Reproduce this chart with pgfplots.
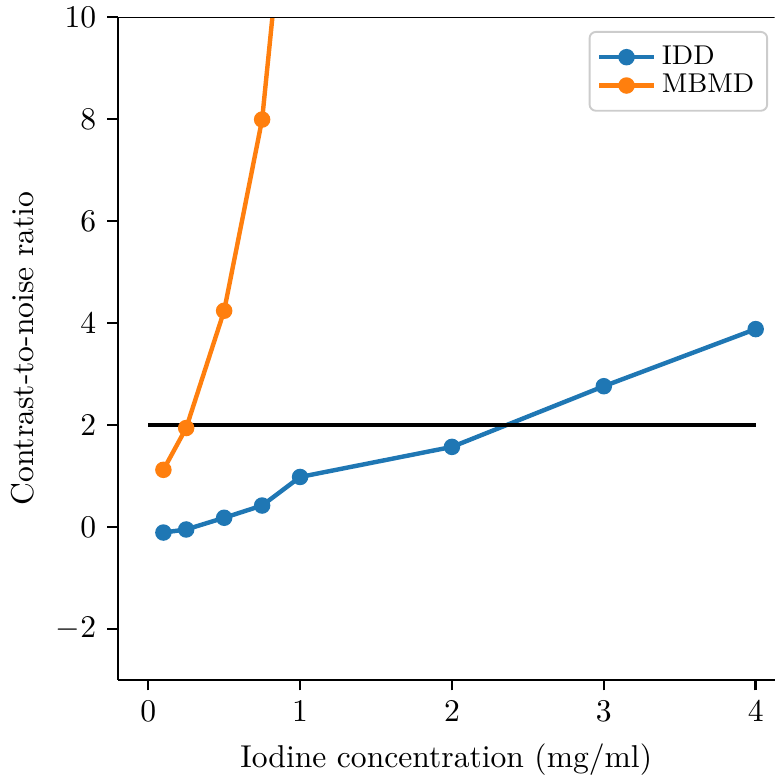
\documentclass[border=0pt]{standalone}
\usepackage{pgfplots}
\pgfplotsset{compat=1.18}
\definecolor{mplblue}{HTML}{1F77B4}
\definecolor{mplorange}{HTML}{FF7F0E}
\begin{document}
\begin{tikzpicture}
\begin{axis}[
  scale only axis,
  width=207.9pt, height=209.8pt,
  xmin=-0.2, xmax=4.125,
  ymin=-3, ymax=10,
  axis x line*=bottom, axis y line*=left,
  axis line style={line width=0.8pt, -},
  xtick={0,1,2,3,4},
  ytick={-2,0,2,4,6,8,10},
  tick align=outside,
  major tick length=3.3pt,
  tick style={line width=0.8pt, black},
  xlabel={Iodine concentration (mg/ml)},
  ylabel={Contrast-to-noise ratio},
  clip=true,
  legend style={at={(0.99,0.979)}, anchor=north east, draw=black!20, line width=0.6pt, rounded corners=2pt, fill=white, font=\fontsize{8.6}{10}\selectfont, row sep=0pt, inner xsep=2.3pt, inner ysep=3.5pt, nodes={inner xsep=1.8pt, inner ysep=0.8pt}},
  legend cell align=left,
  legend image code/.code={\draw[mark repeat=2,mark phase=2,#1] plot coordinates {(0pt,0pt) (8.7pt,0pt) (17.4pt,0pt)};},
]
\addplot[mplblue, line width=1.4pt, mark=*, mark size=1.9pt] coordinates {
  (0.1,-0.11) (0.25,-0.05) (0.5,0.18) (0.75,0.42) (1,0.98) (2,1.57) (3,2.76) (4,3.88)
};
\addlegendentry{IDD}
\addplot[mplorange, line width=1.4pt, mark=*, mark size=1.9pt] coordinates {
  (0.1,1.12) (0.25,1.94) (0.5,4.24) (0.75,7.99) (1,15.4)
};
\addlegendentry{MBMD}
\addplot[black, line width=1.1pt, forget plot] coordinates {(0,2) (4,2)};
\draw[line width=0.8pt] (rel axis cs:0,1) -- (rel axis cs:1,1);
\end{axis}
\pgfresetboundingbox
\path (current axis.south west) ++(-37.3pt,-32pt) coordinate (bl);
\path (current axis.north east) ++(0pt,5.4pt) coordinate (tr);
\path[use as bounding box] (bl) rectangle (tr);
\end{tikzpicture}
\end{document}
